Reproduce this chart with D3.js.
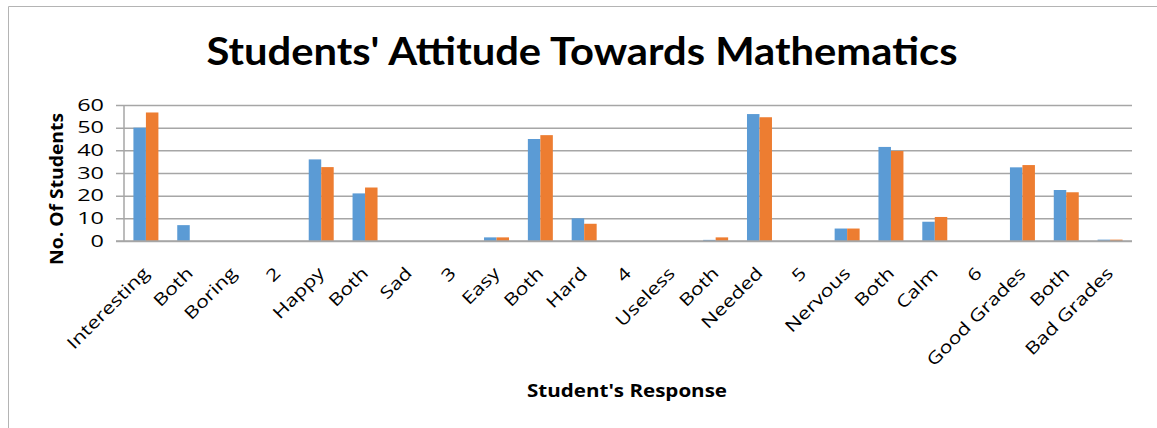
<!DOCTYPE html>
<html>
<head>
<meta charset="utf-8">
<script src="https://cdn.jsdelivr.net/npm/d3@7"></script>
<style>
  html, body { margin: 0; padding: 0; background: #fff; }
  svg { display: block; }
  text { fill: #000; }
</style>
</head>
<body>
<svg id="chart" width="1157" height="428"></svg>
<script>
// Survey answers, grouped by question (numbers are spacer slots between questions)
const categories = ["Interesting", "Both", "Boring", "2", "Happy", "Both", "Sad", "3",
  "Easy", "Both", "Hard", "4", "Useless", "Both", "Needed", "5", "Nervous", "Both",
  "Calm", "6", "Good Grades", "Both", "Bad Grades"];
const seriesBlue   = [50, 7, 0, 0, 36, 21, 0, 0, 1.6, 45, 10, 0, 0, 0.5, 56, 0, 5.5, 41.5, 8.5, 0, 32.5, 22.5, 0.6];
const seriesOrange = [56.7, 0, 0, 0, 32.6, 23.6, 0, 0, 1.6, 46.7, 7.6, 0, 0, 1.6, 54.6, 0, 5.5, 39.7, 10.6, 0, 33.5, 21.5, 0.6];
const yTicks = [0, 10, 20, 30, 40, 50, 60];
const seriesColors = ["#5B9BD5", "#ED7D31"];

const svg = d3.select("#chart");

// chart-area frame
svg.append("path")
  .attr("d", "M8.5,428 V6.5 H1157")
  .attr("fill", "none")
  .attr("stroke", "#b4b4b4")
  .attr("stroke-width", 1);

const plot = { left: 124, right: 1132, top: 105, bottom: 241 };

const x = d3.scaleBand()
  .domain(d3.range(categories.length))
  .range([plot.left, plot.right])
  .paddingInner(0.43)
  .paddingOuter(0.215);

const x1 = d3.scaleBand()
  .domain([0, 1])
  .range([0, x.bandwidth()]);

const y = d3.scaleLinear().domain([0, 60]).range([plot.bottom, plot.top]);

// horizontal gridlines (with short outer ticks left of the axis)
const grid = svg.append("g")
  .attr("transform", `translate(${plot.left - 8},0)`)
  .call(d3.axisRight(y).tickValues(yTicks).tickSize(plot.right - plot.left + 8).tickFormat(""));
grid.select(".domain").remove();
grid.selectAll(".tick line")
  .attr("stroke", "#a6a6a6")
  .attr("stroke-width", 1.5);

// vertical value axis line
svg.append("line")
  .attr("x1", plot.left).attr("x2", plot.left)
  .attr("y1", y(60)).attr("y2", y(0))
  .attr("stroke", "#a6a6a6")
  .attr("stroke-width", 1.5);

// value tick labels
const yAxis = svg.append("g")
  .attr("transform", `translate(${plot.left - 20},0)`)
  .call(d3.axisLeft(y).tickValues(yTicks).tickSize(0).tickPadding(0));
yAxis.select(".domain").remove();
yAxis.selectAll(".tick text")
  .attr("font-family", "'Open Sans', sans-serif")
  .attr("font-size", 16.5)
  .attr("fill", "#000")
  .attr("x", 0)
  .attr("transform", "scale(1.42,1)");

// bars
const pairs = categories.map((c, i) => ({ i, values: [seriesBlue[i], seriesOrange[i]] }));
const groups = svg.append("g").selectAll("g")
  .data(pairs)
  .join("g")
  .attr("transform", d => `translate(${x(d.i)},0)`);
groups.selectAll("rect")
  .data(d => d.values.map((v, k) => ({ k, v })))
  .join("rect")
  .attr("x", d => x1(d.k))
  .attr("width", x1.bandwidth())
  .attr("y", d => y(d.v))
  .attr("height", d => y(0) - y(d.v))
  .attr("fill", d => seriesColors[d.k]);

// category axis line
svg.append("line")
  .attr("x1", plot.left - 8).attr("x2", plot.right)
  .attr("y1", y(0)).attr("y2", y(0))
  .attr("stroke", "#a6a6a6")
  .attr("stroke-width", 1.5);

// rotated category labels
svg.append("g").selectAll("g")
  .data(categories)
  .join("g")
  .attr("transform", (d, i) => `translate(${x(i) + x.bandwidth() / 2},270) rotate(-45)`)
  .append("text")
  .attr("text-anchor", "end")
  .attr("dy", "0.35em")
  .attr("font-family", "'Open Sans', sans-serif")
  .attr("font-size", 17)
  .attr("transform", "scale(1.26,1)")
  .text(d => d);

// title
svg.append("text")
  .attr("x", 582)
  .attr("y", 65)
  .attr("text-anchor", "middle")
  .attr("font-family", "Lato, 'Open Sans', sans-serif")
  .attr("font-weight", "bold")
  .attr("font-size", 39)
  .attr("textLength", 751)
  .attr("lengthAdjust", "spacingAndGlyphs")
  .text("Students' Attitude Towards Mathematics");

// axis titles
svg.append("text")
  .attr("x", 627)
  .attr("y", 397)
  .attr("text-anchor", "middle")
  .attr("font-family", "'Open Sans', sans-serif")
  .attr("font-weight", "bold")
  .attr("font-size", 17)
  .attr("textLength", 200)
  .attr("lengthAdjust", "spacingAndGlyphs")
  .text("Student's Response");

svg.append("text")
  .attr("transform", "translate(63,189) rotate(-90)")
  .attr("text-anchor", "middle")
  .attr("font-family", "'Open Sans', sans-serif")
  .attr("font-weight", "bold")
  .attr("font-size", 17)
  .attr("textLength", 152)
  .attr("lengthAdjust", "spacingAndGlyphs")
  .text("No. Of Students");
</script>
</body>
</html>
